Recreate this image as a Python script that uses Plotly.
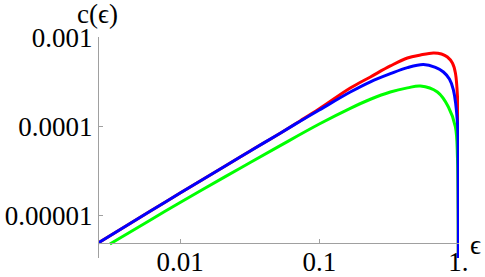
import plotly.graph_objects as go

eps_blue = [0.0025, 0.00261, 0.00608, 0.01, 0.0211, 0.0319, 0.0524, 0.0728, 0.1, 0.167, 0.233, 0.324, 0.43, 0.56, 0.683, 0.78, 0.861, 0.92, 0.984, 0.995, 0.999, 0.99999]
c_blue = [4.82e-6, 5.03e-6, 1.13e-5, 1.81e-5, 3.65e-5, 5.38e-5, 8.51e-5, 1.16e-4, 1.55e-4, 2.47e-4, 3.22e-4, 3.97e-4, 4.65e-4, 5.03e-4, 4.67e-4, 4.15e-4, 3.46e-4, 2.61e-4, 1.11e-4, 4e-5, 8e-6, 1e-7]

eps_red = [0.0025, 0.00261, 0.00608, 0.01, 0.0211, 0.0319, 0.0524, 0.0728, 0.1, 0.167, 0.233, 0.324, 0.43, 0.533, 0.661, 0.755, 0.833, 0.905, 0.951, 0.99, 0.996, 0.999, 0.99999]
c_red = [4.82e-6, 5.03e-6, 1.13e-5, 1.81e-5, 3.65e-5, 5.38e-5, 8.51e-5, 1.17e-4, 1.6e-4, 2.74e-4, 3.65e-4, 4.85e-4, 5.96e-4, 6.44e-4, 6.78e-4, 6.61e-4, 6.12e-4, 5.24e-4, 4.05e-4, 1.8e-4, 5e-5, 1e-5, 1e-7]

eps_green = [0.00313, 0.00608, 0.01, 0.0211, 0.0319, 0.0524, 0.1, 0.167, 0.233, 0.324, 0.43, 0.533, 0.706, 0.847, 0.951, 0.984, 0.995, 0.9995, 0.99999]
c_green = [4.84e-6, 8.97e-6, 1.42e-5, 2.77e-5, 3.99e-5, 6.18e-5, 1.08e-4, 1.62e-4, 2.05e-4, 2.47e-4, 2.75e-4, 2.89e-4, 2.47e-4, 1.68e-4, 1.0e-4, 4.5e-5, 1.2e-5, 1e-6, 1e-7]

x_tickvals = [0.01, 0.1, 1]
x_ticktext = ["0.01", "0.1", "1."]
y_tickvals = [1e-5, 1e-4, 1e-3]
y_ticktext = ["0.00001", "0.0001", "0.001"]

FONT = "'Liberation Serif', 'Times New Roman', Times, 'DejaVu Serif', serif"
AX = "#a0a0a0"
FS = 27

fig = go.Figure()
for xs, ys, col in [(eps_red, c_red, "#ff0000"), (eps_green, c_green, "#00ff00"), (eps_blue, c_blue, "#0000ff")]:
    fig.add_trace(go.Scatter(x=xs, y=ys, mode="lines",
                             line=dict(color=col, width=3, shape="spline", smoothing=1.0),
                             showlegend=False, hoverinfo="skip"))

fig.update_layout(
    width=485, height=277,
    margin=dict(l=99, r=26, t=37, b=19),
    paper_bgcolor="white", plot_bgcolor="white",
    font=dict(family=FONT, size=FS, color="black"),
    xaxis=dict(type="log", range=[-2.583, 0.004], tickvals=x_tickvals, ticktext=x_ticktext,
               showgrid=False, zeroline=False, showline=True, linecolor=AX, linewidth=1,
               ticks="inside", ticklen=4, tickcolor=AX, automargin=False,
               ticklabelstandoff=-5, anchor="free", position=0.070),
    yaxis=dict(type="log", range=[-5.472, -2.989], tickvals=y_tickvals, ticktext=y_ticktext,
               showgrid=False, zeroline=False, showline=True, linecolor=AX, linewidth=1,
               ticks="inside", ticklen=4, tickcolor=AX, automargin=False),
    annotations=[
        dict(text="c(ϵ)", x=-0.003, y=1.105, xref="paper", yref="paper", xanchor="center",
             yanchor="middle", showarrow=False, font=dict(family=FONT, size=FS, color="black")),
        dict(text="ϵ", x=1.045, y=0.06, xref="paper", yref="paper", xanchor="center",
             yanchor="middle", showarrow=False, font=dict(family=FONT, size=FS, color="black")),
    ],
)

fig.write_html("out.html", config={"displayModeBar": False},
               post_script="document.body.style.margin='0';document.body.style.overflow='hidden';")
